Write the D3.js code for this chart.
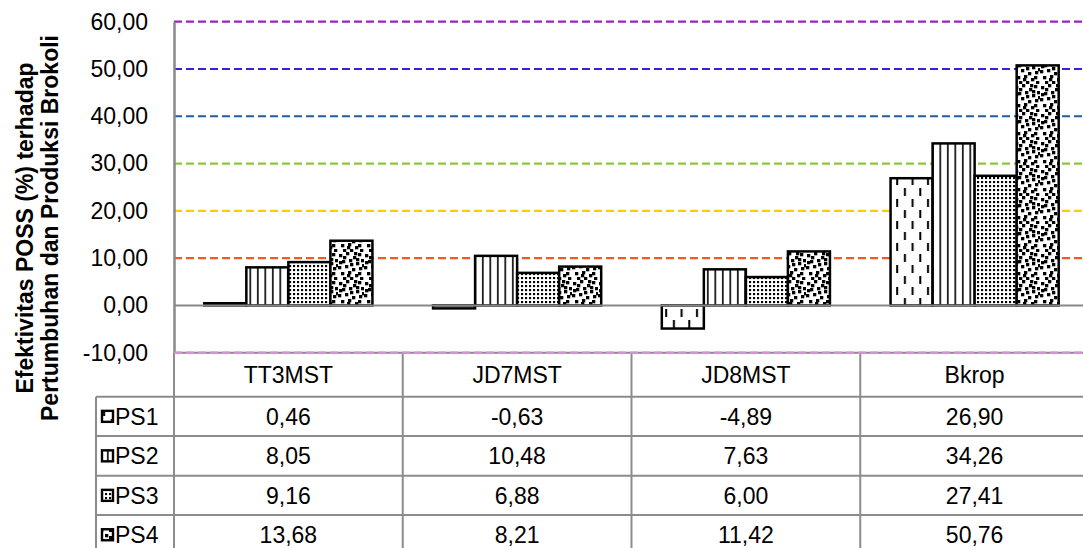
<!DOCTYPE html>
<html>
<head>
<meta charset="utf-8">
<script src="https://cdn.jsdelivr.net/npm/d3@7"></script>
<style>
  body { margin: 0; background: #fff; }
  svg { display: block; font-family: "Liberation Sans", Arial, sans-serif; }
</style>
</head>
<body>
<svg id="chart"></svg>
<script>
// data
var categories = ["TT3MST", "JD7MST", "JD8MST", "Bkrop"];
var seriesNames = ["PS1", "PS2", "PS3", "PS4"];
var ps1 = [0.46, -0.63, -4.89, 26.90];
var ps2 = [8.05, 10.48, 7.63, 34.26];
var ps3 = [9.16, 6.88, 6.00, 27.41];
var ps4 = [13.68, 8.21, 11.42, 50.76];
var yTicks = [-10, 0, 10, 20, 30, 40, 50, 60];
var yTitle = ["Efektivitas POSS (%) terhadap", "Pertumbuhan dan Produksi Brokoli"];

var seriesValues = [ps1, ps2, ps3, ps4];
var gridColors = { "-10": "#d890d8", "10": "#f05a24", "20": "#ffcc00", "30": "#8cc63c", "40": "#1f5fa0", "50": "#3a1fe0", "60": "#a020c0" };

var width = 1083, height = 548;
var plotLeft = 174, plotRight = 1089;
var fontSize = 23;

var svg = d3.select("#chart").attr("width", width).attr("height", height);

var loc = d3.formatLocale({ decimal: ",", thousands: ".", grouping: [3], currency: ["", ""], minus: "-" });
var fmt = loc.format(".2f");

// fill patterns
var defs = svg.append("defs");

var p1 = defs.append("pattern").attr("id", "pat0").attr("patternUnits", "userSpaceOnUse")
  .attr("width", 15.4).attr("height", 22);
p1.append("rect").attr("width", 15.4).attr("height", 22).attr("fill", "#fff");
p1.append("rect").attr("x", 3).attr("y", 1).attr("width", 2).attr("height", 8).attr("fill", "#000");
p1.append("rect").attr("x", 10.7).attr("y", 12).attr("width", 2).attr("height", 8).attr("fill", "#000");

var p2 = defs.append("pattern").attr("id", "pat1").attr("patternUnits", "userSpaceOnUse")
  .attr("width", 7.5).attr("height", 10);
p2.append("rect").attr("width", 7.5).attr("height", 10).attr("fill", "#fff");
p2.append("rect").attr("x", 2).attr("y", 0).attr("width", 1.6).attr("height", 10).attr("fill", "#000");

var p3 = defs.append("pattern").attr("id", "pat2").attr("patternUnits", "userSpaceOnUse")
  .attr("width", 4).attr("height", 4);
p3.append("rect").attr("width", 4).attr("height", 4).attr("fill", "#fff");
p3.append("rect").attr("x", 1).attr("y", 1).attr("width", 2.1).attr("height", 2.1).attr("fill", "#000");

var confetti = [[1,2],[8,0],[15,4],[20,1],[4,8],[11,7],[18,10],[0,14],[7,13],[14,16],[21,15],[3,20],[10,19],[17,22],[23,7],[5,25],[12,25],[20,20],
  [12,11],[5,4],[22,25],[16,0],[9,22],[1,9],[18,6],[24,12]];
var p4 = defs.append("pattern").attr("id", "pat3").attr("patternUnits", "userSpaceOnUse")
  .attr("width", 26).attr("height", 28);
p4.append("rect").attr("width", 26).attr("height", 28).attr("fill", "#fff");
confetti.forEach(function (c) {
  p4.append("rect").attr("x", c[0]).attr("y", c[1]).attr("width", 3.3).attr("height", 3.3).attr("fill", "#000");
});

// scales
var yScale = d3.scaleLinear().domain([-10, 60]).range([352.7, 21.7]);
var xScale = d3.scaleBand().domain(categories).range([plotLeft, plotRight]).padding(0);
var groupW = xScale.bandwidth() * 0.735;
var xInner = d3.scaleBand().domain(seriesNames).range([0, groupW]).padding(0);

// dashed coloured grid lines
svg.append("g").selectAll("line")
  .data(yTicks.filter(function (d) { return d !== 0 && d !== -10; }))
  .enter().append("line")
  .attr("x1", plotLeft).attr("x2", plotRight)
  .attr("y1", function (d) { return yScale(d); })
  .attr("y2", function (d) { return yScale(d); })
  .attr("stroke", function (d) { return gridColors[d]; })
  .attr("stroke-width", 2.2)
  .attr("stroke-dasharray", "8,4");

// y axis
var yAxis = svg.append("g")
  .attr("class", "axis")
  .attr("transform", "translate(" + plotLeft + ",0)")
  .call(d3.axisLeft(yScale).tickValues(yTicks).tickFormat(fmt).tickSize(0).tickPadding(26));
yAxis.select(".domain").attr("stroke", "#888").attr("stroke-width", 2.5);
yAxis.selectAll("text").attr("font-size", fontSize).attr("fill", "#000").attr("font-family", "Liberation Sans, Arial, sans-serif");

// bars
var rows = [];
seriesNames.forEach(function (s, i) {
  categories.forEach(function (c, j) {
    rows.push({ series: s, idx: i, cat: c, value: seriesValues[i][j] });
  });
});

var off = (xScale.bandwidth() - groupW) / 2;
svg.append("g").selectAll("rect")
  .data(rows)
  .enter().append("rect")
  .attr("x", function (d) { return xScale(d.cat) + off + xInner(d.series); })
  .attr("y", function (d) { return yScale(Math.max(0, d.value)); })
  .attr("width", xInner.bandwidth())
  .attr("height", function (d) { return Math.abs(yScale(d.value) - yScale(0)); })
  .attr("fill", function (d) { return "url(#pat" + d.idx + ")"; })
  .attr("stroke", "#000")
  .attr("stroke-width", 2.5);

// zero line
svg.append("line")
  .attr("x1", plotLeft).attr("x2", plotRight)
  .attr("y1", yScale(0)).attr("y2", yScale(0))
  .attr("stroke", "#888").attr("stroke-width", 2);

// data table
var rowTop = [352.7, 396.7, 436, 475.7, 515, 554.5];
var tableColor = "#8c8c8c";
var tbl = svg.append("g");

tbl.append("line").attr("x1", plotLeft).attr("x2", plotRight)
  .attr("y1", rowTop[0]).attr("y2", rowTop[0]).attr("stroke", tableColor).attr("stroke-width", 2);
rowTop.slice(1, 5).forEach(function (y) {
  tbl.append("line").attr("x1", 96).attr("x2", plotRight)
    .attr("y1", y).attr("y2", y).attr("stroke", tableColor).attr("stroke-width", 2);
});
categories.forEach(function (c) {
  tbl.append("line").attr("x1", xScale(c)).attr("x2", xScale(c))
    .attr("y1", rowTop[0]).attr("y2", height).attr("stroke", tableColor).attr("stroke-width", 2);
});
tbl.append("line").attr("x1", 96).attr("x2", 96)
  .attr("y1", rowTop[1]).attr("y2", height).attr("stroke", tableColor).attr("stroke-width", 2);

// -10 dashed line on top of table border
svg.append("line")
  .attr("x1", plotLeft).attr("x2", plotRight)
  .attr("y1", yScale(-10)).attr("y2", yScale(-10))
  .attr("stroke", gridColors["-10"]).attr("stroke-width", 2.2)
  .attr("stroke-dasharray", "8,4");

// header labels
tbl.selectAll(".hdr").data(categories).enter().append("text")
  .attr("class", "hdr")
  .attr("x", function (d) { return xScale(d) + xScale.bandwidth() / 2; })
  .attr("y", (rowTop[0] + rowTop[1]) / 2)
  .attr("dy", "0.36em")
  .attr("text-anchor", "middle")
  .attr("font-size", fontSize)
  .text(function (d) { return d; });

// series rows
seriesNames.forEach(function (s, i) {
  var yc = (rowTop[i + 1] + rowTop[i + 2]) / 2;
  tbl.append("rect")
    .attr("x", 102).attr("y", yc - 5.5).attr("width", 11).attr("height", 11)
    .attr("fill", "url(#pat" + i + ")").attr("stroke", "#000").attr("stroke-width", 2.4);
  tbl.append("text")
    .attr("x", 115).attr("y", yc).attr("dy", "0.36em")
    .attr("font-size", fontSize).text(s);
  tbl.selectAll(".v" + i).data(seriesValues[i]).enter().append("text")
    .attr("x", function (d, j) { return xScale(categories[j]) + xScale.bandwidth() / 2; })
    .attr("y", yc).attr("dy", "0.36em")
    .attr("text-anchor", "middle")
    .attr("font-size", fontSize)
    .text(function (d) { return fmt(d); });
});

// y axis title
var title = svg.append("text")
  .attr("transform", "translate(0,228) rotate(-90)")
  .attr("text-anchor", "middle")
  .attr("font-weight", "bold")
  .attr("font-size", 23);
title.selectAll("tspan").data(yTitle).enter().append("tspan")
  .attr("x", 0)
  .attr("y", function (d, i) { return 33 + i * 25; })
  .text(function (d) { return d; });
</script>
</body>
</html>
